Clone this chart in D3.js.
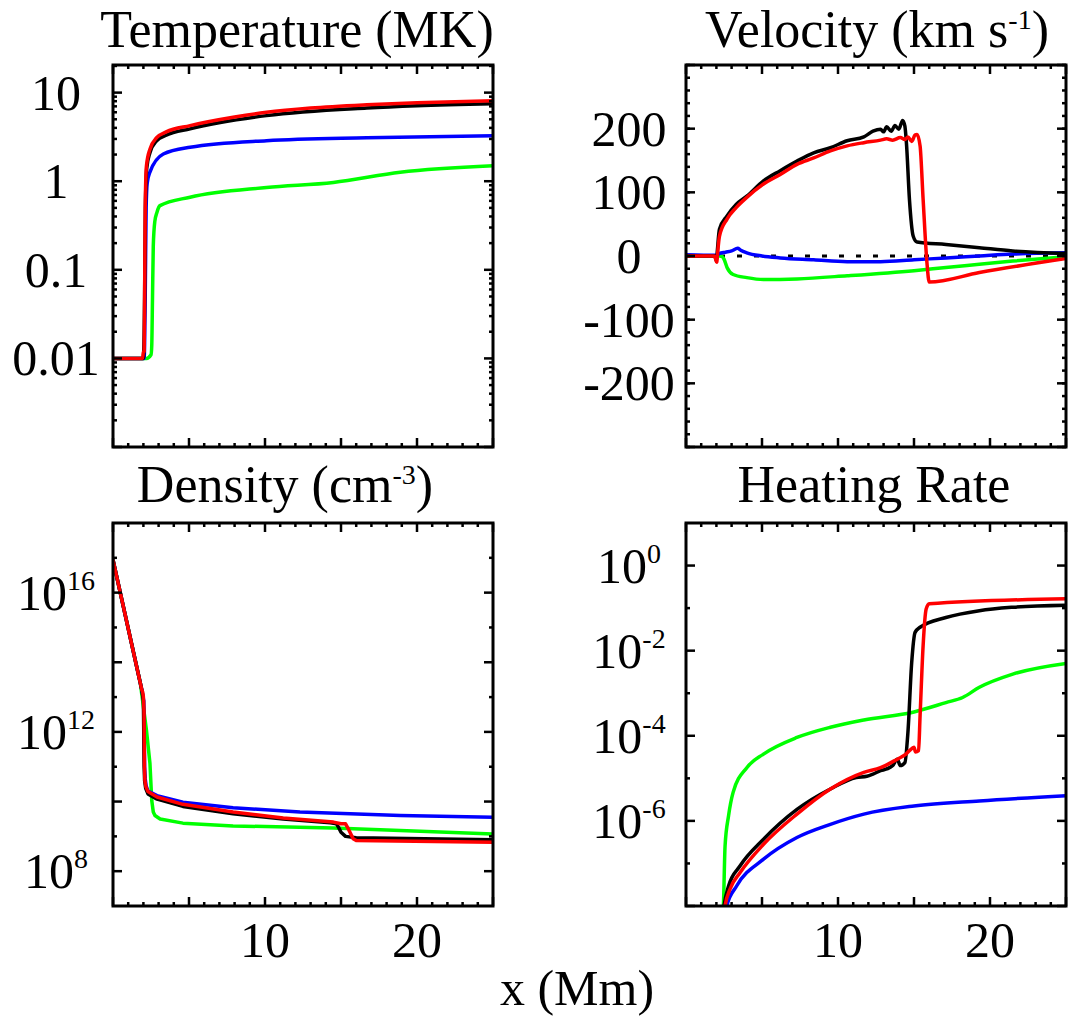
<!DOCTYPE html>
<html>
<head>
<meta charset="utf-8">
<script src="https://cdn.jsdelivr.net/npm/d3@7.9.0/dist/d3.min.js"></script>
<style>
  body { margin: 0; background: #fff; }
  text { font-family: "Liberation Serif", "Times New Roman", serif; fill: #000; }
</style>
</head>
<body>
<svg id="fig" width="1069" height="1021"></svg>
<script>
// x axis (Mm), shared by all four panels
const xDomain = [0, 25];
const xMajor = [0, 5, 10, 15, 20, 25];
const xMinor = d3.range(0, 26, 1);
const xTickLabels = [10, 20];

// Temperature (MK) : [x, T]
const tempGreen = [[0,0.01],[2.2,0.01],[2.5,0.011],[2.55,0.014],[2.6,0.05],[2.65,0.185],[2.75,0.35],[2.9,0.45],[3.09,0.53],[5.07,0.66],[10.1,0.85],[14.5,0.97],[18.9,1.26],[25,1.49]];
const tempBlue  = [[0,0.01],[2.05,0.01],[2.12,0.05],[2.18,0.5],[2.25,0.95],[2.43,1.27],[3.31,2.03],[5.07,2.42],[10.1,2.87],[16.7,3.1],[25,3.27]];
const tempBlack = [[0,0.01],[2.0,0.01],[2.08,0.05],[2.13,0.5],[2.22,1.4],[2.43,2.1],[2.87,2.85],[3.5,3.3],[5.07,3.9],[10.1,5.5],[16.7,6.7],[20,7.1],[25,7.5]];
const tempRed   = [[0,0.01],[1.95,0.01],[2.0,0.012],[2.05,0.012],[2.08,0.05],[2.12,0.5],[2.2,1.49],[2.43,2.3],[2.87,3.1],[3.5,3.6],[5.07,4.24],[8,5.3],[10.1,6.0],[13,6.7],[16.7,7.3],[20,7.7],[25,8.1]];
const tempTicks = [0.01, 0.1, 1, 10];
const tempTickText = ["0.01", "0.1", "1", "10"];

// Velocity (km/s) : [x, v]
const velGreen = [[0,0],[2.3,0],[2.5,-5],[2.7,-18],[3.1,-29],[4.0,-34],[5.1,-37],[7.3,-36],[10.6,-31],[15.0,-23],[17.1,-18],[19.3,-13],[21.5,-8],[25,-1]];
const velBlue  = [[0,2],[2.0,1],[2.2,4],[2.6,6],[3.0,8],[3.4,12],[3.6,9],[4.0,5],[5.0,0],[6.2,-3],[8.4,-6],[10.6,-9],[12.8,-9],[15.0,-6],[17.1,-3],[19.3,0],[21.5,3],[25,5]];
const velBlack = [[0,0],[1.85,0],[1.95,-3],[2.0,-8],[2.05,5],[2.2,42],[2.7,63],[3.3,81],[4.0,94],[5.1,118],[6.2,134],[7.3,149],[8.4,162],[9.5,170],[10.6,181],[11.7,187],[12.3,196],[12.8,199],[13.0,195],[13.2,203],[13.5,196],[13.75,205],[14.0,199],[14.25,213],[14.4,204],[14.5,178],[14.7,89],[14.95,31],[15.2,22],[17.1,18],[19.3,13],[21.5,8],[25,4]];
const velRed   = [[0,0],[1.85,0],[1.95,-5],[2.02,-10],[2.08,5],[2.2,31],[2.7,58],[3.3,76],[4.0,92],[5.1,113],[6.2,128],[7.3,144],[8.4,154],[9.5,165],[10.6,173],[11.7,178],[12.8,182],[13.2,184],[13.6,182],[14.1,186],[14.4,183],[14.6,187],[14.85,180],[15.07,190],[15.2,191],[15.4,173],[15.6,89],[15.85,-10],[16.0,-41],[19.3,-26],[25,-4]];
const velTicks = [-200, -100, 0, 100, 200];

// Density (cm^-3) : [x, log10 n]
const densGreen = [[0,16.94],[1.8,13.4],[2.2,12.05],[2.43,11.1],[2.55,10.03],[2.65,9.7],[2.76,9.6],[3.1,9.5],[4.6,9.38],[7.9,9.30],[14.5,9.24],[18.9,9.17],[25,9.07]];
const densBlue  = [[0,16.94],[1.9,13.2],[2.02,12.9],[2.08,11.0],[2.12,10.65],[2.18,10.45],[2.3,10.3],[2.9,10.17],[4.6,9.98],[7.9,9.82],[12.3,9.70],[18.9,9.60],[25,9.55]];
const densBlack = [[0,16.94],[1.9,13.2],[2.0,12.9],[2.05,11.0],[2.08,10.6],[2.15,10.38],[2.3,10.22],[2.9,10.07],[4.6,9.86],[7.9,9.65],[11.2,9.5],[14.3,9.39],[14.7,9.36],[14.85,9.25],[15.0,9.12],[15.3,9.0],[16,8.96],[25,8.9]];
const densRed   = [[0,16.94],[1.9,13.2],[1.95,13.15],[2.0,13.0],[2.04,12.6],[2.07,11.0],[2.1,10.6],[2.17,10.42],[2.3,10.29],[2.9,10.13],[4.6,9.92],[7.9,9.70],[11.2,9.53],[14.5,9.41],[15.0,9.36],[15.3,9.36],[15.5,9.2],[15.8,8.93],[16.0,8.88],[25,8.83]];
const densTickExp = [8, 12, 16];

// Heating rate : [x, log10 q]
const heatGreen = [[2.4,-8.3],[2.46,-8],[2.57,-6.59],[2.8,-5.88],[3.1,-5.33],[4.0,-4.75],[5.1,-4.43],[7.3,-4.04],[9.5,-3.8],[11.7,-3.63],[15.0,-3.44],[17.1,-3.22],[18.2,-3.1],[19.3,-2.86],[21.5,-2.55],[25,-2.30]];
const heatBlue  = [[2.6,-8.3],[2.68,-8],[3.33,-7.53],[5.1,-6.9],[7.3,-6.39],[9.5,-6.08],[11.7,-5.84],[15.0,-5.65],[19.3,-5.53],[25,-5.41]];
const heatBlack = [[2.4,-8.3],[2.5,-8],[2.8,-7.53],[3.55,-7.06],[5.1,-6.43],[7.3,-5.73],[9.5,-5.25],[11.2,-4.98],[11.9,-4.95],[12.3,-4.9],[12.8,-4.82],[13.2,-4.78],[13.6,-4.7],[13.9,-4.55],[14.1,-4.7],[14.4,-4.63],[14.6,-3.92],[14.85,-2.27],[15.07,-1.57],[15.4,-1.45],[17.1,-1.22],[19.3,-1.06],[21.5,-0.98],[25,-0.93]];
const heatRed   = [[2.5,-8.3],[2.57,-8],[2.9,-7.6],[3.55,-7.22],[5.1,-6.55],[7.3,-5.84],[9.5,-5.25],[11.7,-4.86],[12.8,-4.75],[13.9,-4.55],[14.4,-4.45],[14.7,-4.35],[15.0,-4.27],[15.1,-4.38],[15.3,-4.35],[15.4,-3.53],[15.6,-1.88],[15.8,-1.02],[16.0,-0.9],[25,-0.78]];
const heatTickExp = [-6, -4, -2, 0];

const colors = { green: "#00ff00", blue: "#0000ff", black: "#000000", red: "#ff0000" };
const pow10 = d => [d[0], Math.pow(10, d[1])];

const svg = d3.select('#fig');

// log minor ticks 2..9 per decade
function logMinors(lo, hi) {
  const out = [];
  for (let k = Math.floor(Math.log10(lo)); k <= Math.ceil(Math.log10(hi)); k++) {
    for (let m = 2; m <= 9; m++) {
      const v = m * Math.pow(10, k);
      if (v > lo && v < hi) out.push(v);
    }
  }
  return out;
}

const panels = [
  {
    left: 113, right: 493, top: 65, bottom: 447,
    y: d3.scaleLog().domain([0.001, 20.5]),
    curve: d3.curveMonotoneX,
    series: [[tempGreen, colors.green], [tempBlue, colors.blue], [tempBlack, colors.black], [tempRed, colors.red]],
    yMajor: [0.001, 0.01, 0.1, 1, 10],
    yMinor: logMinors(0.001, 20.5),
    yLabels: tempTicks.map((v, i) => ({ v, base: tempTickText[i] })),
    title: { x: 297, y: 47, parts: [["Temperature (MK)"]] }
  },
  {
    left: 686, right: 1066, top: 65, bottom: 447,
    y: d3.scaleLinear().domain([-300, 300]),
    curve: d3.curveMonotoneX,
    series: [[velGreen, colors.green], [velBlue, colors.blue], [velBlack, colors.black], [velRed, colors.red]],
    yMajor: d3.range(-300, 301, 100),
    yMinor: d3.range(-300, 301, 20),
    yLabels: velTicks.map(v => ({ v, base: String(v) })),
    zeroLine: true,
    title: { x: 877, y: 47, parts: [["Velocity (km s"], ["-1", "sup"], [")"]] }
  },
  {
    left: 113, right: 493, top: 523, bottom: 906,
    y: d3.scaleLog().domain([1e7, 1e18]),
    curve: d3.curveLinear,
    series: [[densGreen, colors.green], [densBlue, colors.blue], [densBlack, colors.black], [densRed, colors.red]].map(([s, c]) => [s.map(pow10), c]),
    yMajor: [8, 10, 12, 14, 16].map(e => Math.pow(10, e)),
    yMinor: [9, 11, 13, 15, 17].map(e => Math.pow(10, e)),
    yLabels: densTickExp.map(e => ({ v: Math.pow(10, e), base: "10", sup: String(e) })),
    xLabels: true,
    title: { x: 285, y: 502, parts: [["Density (cm"], ["-3", "sup"], [")"]] }
  },
  {
    left: 686, right: 1066, top: 523, bottom: 906,
    y: d3.scaleLog().domain([1e-8, 10]),
    curve: d3.curveMonotoneX,
    series: [[heatGreen, colors.green], [heatBlue, colors.blue], [heatBlack, colors.black], [heatRed, colors.red]].map(([s, c]) => [s.map(pow10), c]),
    yMajor: [-8, -6, -4, -2, 0].map(e => Math.pow(10, e)),
    yMinor: [-7, -5, -3, -1].map(e => Math.pow(10, e)),
    yLabels: heatTickExp.map(e => ({ v: Math.pow(10, e), base: "10", sup: String(e) })),
    xLabels: true,
    title: { x: 874, y: 502, parts: [["Heating Rate"]] }
  }
];

const majorLen = 9, minorLen = 4;

panels.forEach((p, i) => {
  const x = d3.scaleLinear().domain(xDomain).range([p.left, p.right]);
  const y = p.y.range([p.bottom, p.top]);
  const g = svg.append('g');

  g.append('clipPath').attr('id', 'clip' + i)
    .append('rect')
    .attr('x', p.left).attr('y', p.top)
    .attr('width', p.right - p.left).attr('height', p.bottom - p.top);

  const plot = g.append('g').attr('clip-path', `url(#clip${i})`);

  if (p.zeroLine) {
    plot.append('line')
      .attr('x1', p.left).attr('x2', p.right)
      .attr('y1', y(0)).attr('y2', y(0))
      .attr('stroke', '#000').attr('stroke-width', 3)
      .attr('stroke-dasharray', '5,12');
  }

  const line = d3.line().curve(p.curve).x(d => x(d[0])).y(d => y(d[1]));
  p.series.forEach(([data, color]) => {
    plot.append('path')
      .attr('d', line(data))
      .attr('fill', 'none')
      .attr('stroke', color)
      .attr('stroke-width', 3.5)
      .attr('stroke-linejoin', 'round');
  });

  // ticks on all four sides, pointing inward
  const ticks = g.append('g').attr('stroke', '#000').attr('stroke-width', 2.5);
  xMinor.forEach(v => {
    const len = xMajor.includes(v) ? majorLen : minorLen;
    ticks.append('line').attr('x1', x(v)).attr('x2', x(v)).attr('y1', p.bottom).attr('y2', p.bottom - len);
    ticks.append('line').attr('x1', x(v)).attr('x2', x(v)).attr('y1', p.top).attr('y2', p.top + len);
  });
  const yTick = (v, len) => {
    ticks.append('line').attr('x1', p.left).attr('x2', p.left + len).attr('y1', y(v)).attr('y2', y(v));
    ticks.append('line').attr('x1', p.right).attr('x2', p.right - len).attr('y1', y(v)).attr('y2', y(v));
  };
  p.yMinor.forEach(v => yTick(v, minorLen));
  p.yMajor.forEach(v => yTick(v, majorLen));

  // frame
  g.append('rect')
    .attr('x', p.left).attr('y', p.top)
    .attr('width', p.right - p.left).attr('height', p.bottom - p.top)
    .attr('fill', 'none').attr('stroke', '#000').attr('stroke-width', 3);

  // y labels
  p.yLabels.forEach(l => {
    const t = g.append('text')
      .attr('x', p.left - 57).attr('y', y(l.v) + 17)
      .attr('text-anchor', 'middle')
      .attr('font-size', 50);
    t.append('tspan').text(l.base);
    if (l.sup) t.append('tspan').attr('font-size', 28).attr('dy', -20).text(l.sup);
  });

  // x labels
  if (p.xLabels) {
    xTickLabels.forEach(v => {
      g.append('text')
        .attr('x', x(v)).attr('y', 957)
        .attr('text-anchor', 'middle')
        .attr('font-size', 50)
        .text(v);
    });
  }

  // title
  const tt = g.append('text')
    .attr('x', p.title.x).attr('y', p.title.y)
    .attr('text-anchor', 'middle')
    .attr('font-size', 52);
  let raised = false;
  p.title.parts.forEach(([s, kind]) => {
    const span = tt.append('tspan').text(s);
    if (kind === 'sup') {
      span.attr('font-size', 28).attr('dy', -18);
      raised = true;
    } else if (raised) {
      span.attr('dy', 18);
      raised = false;
    }
  });
});

svg.append('text')
  .attr('x', 577).attr('y', 1005)
  .attr('text-anchor', 'middle')
  .attr('font-size', 50)
  .text('x (Mm)');
</script>
</body>
</html>
